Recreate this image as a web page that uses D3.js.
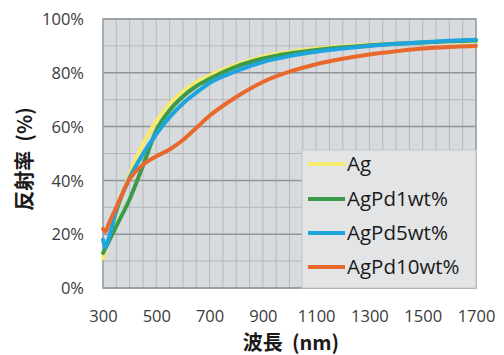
<!DOCTYPE html>
<html>
<head>
<meta charset="utf-8">
<script src="https://cdn.jsdelivr.net/npm/d3@7"></script>
<style>
  body { margin: 0; background: #ffffff; }
  svg { display: block; }
</style>
</head>
<body>
<div id="chart"></div>
<script>
// wavelengths (nm) and reflectance (%) per alloy
var wavelengths = [300, 310, 320, 350, 400, 450, 500, 550, 600, 650, 700, 800, 900, 1000, 1100, 1200, 1300, 1400, 1500, 1600, 1700];
var ag        = [11, 14, 17, 27, 42.5, 53.5, 62, 68.5, 73, 76.5, 79, 83, 86, 87.7, 89, 89.8, 90.4, 90.9, 91.3, 91.6, 91.8];
var agpd1     = [13, 15, 17, 23, 33, 45.5, 58.5, 66, 71.2, 75, 77.8, 82.3, 85.3, 87.2, 88.5, 89.5, 90.2, 90.8, 91.3, 91.7, 92];
var agpd5     = [18, 15, 18, 28.5, 41, 49.8, 57.2, 63.5, 68.6, 72.6, 76.2, 80.6, 84, 86.2, 87.8, 89, 90, 90.8, 91.4, 91.9, 92.3];
var agpd10    = [22, 21, 23.5, 30, 40.5, 45.8, 49, 51.5, 55, 59.5, 64, 71, 76.6, 80.4, 83.2, 85.2, 86.8, 88, 89, 89.6, 90];

var seriesNames = ['Ag', 'AgPd1wt%', 'AgPd5wt%', 'AgPd10wt%'];
var seriesValues = [ag, agpd1, agpd5, agpd10];
var seriesColors = ['#f8ea6e', '#3b9b4a', '#1ea5dd', '#e8692b'];

var xTicks = [300, 500, 700, 900, 1100, 1300, 1500, 1700];
var yTicks = [0, 20, 40, 60, 80, 100];

var width = 504;
var height = 355;

var plot = { left: 103, right: 476, top: 19, bottom: 288 };

var x = d3.scaleLinear().domain([300, 1700]).range([plot.left, plot.right]);
var y = d3.scaleLinear().domain([0, 100]).range([plot.bottom, plot.top]);

var svg = d3.select('#chart')
  .append('svg')
    .attr('width', width)
    .attr('height', height);

// plot background
svg.append('rect')
    .attr('x', plot.left)
    .attr('y', plot.top)
    .attr('width', plot.right - plot.left)
    .attr('height', plot.bottom - plot.top)
    .attr('fill', '#d8dbde');

// vertical grid every 50 nm
svg.append('g')
    .selectAll('line.x-grid')
    .data(d3.range(300, 1701, 50))
  .enter()
    .append('line')
    .attr('stroke', '#b4b8bc')
    .attr('stroke-width', 1)
    .attr('x1', function(d) { return x(d); })
    .attr('x2', function(d) { return x(d); })
    .attr('y1', plot.top)
    .attr('y2', plot.bottom);

// horizontal grid every 10 %
svg.append('g')
    .selectAll('line.y-grid')
    .data(d3.range(0, 101, 10))
  .enter()
    .append('line')
    .attr('stroke', function(d) { return d % 20 == 0 ? '#8f9397' : '#b4b8bc'; })
    .attr('stroke-width', function(d) { return d % 20 == 0 ? 1.5 : 1; })
    .attr('x1', plot.left)
    .attr('x2', plot.right)
    .attr('y1', function(d) { return y(d); })
    .attr('y2', function(d) { return y(d); });

// frame
svg.append('rect')
    .attr('x', plot.left)
    .attr('y', plot.top)
    .attr('width', plot.right - plot.left)
    .attr('height', plot.bottom - plot.top)
    .attr('fill', 'none')
    .attr('stroke', '#9a9ea2')
    .attr('stroke-width', 1.5);

// curves
var line = d3.line()
    .x(function(d) { return x(d[0]); })
    .y(function(d) { return y(d[1]); })
    .curve(d3.curveMonotoneX);

for (var i = 0; i < seriesValues.length; i++) {
    var pts = wavelengths.map(function(w, j) { return [w, seriesValues[i][j]]; });
    svg.append('path')
        .datum(pts)
        .attr('fill', 'none')
        .attr('stroke', seriesColors[i])
        .attr('stroke-width', 4)
        .attr('stroke-linejoin', 'round')
        .attr('stroke-linecap', 'round')
        .attr('d', line);
}

// axes
var yAxis = svg.append('g')
    .attr('transform', 'translate(' + (plot.left - 19) + ',0)')
    .call(d3.axisLeft(y).tickValues(yTicks).tickSize(0).tickFormat(function(d) { return d + '%'; }));
yAxis.select('.domain').remove();
yAxis.selectAll('text')
    .attr('font-family', '"Open Sans", sans-serif')
    .attr('font-size', '16.5px')
    .attr('fill', '#3a3a3a')
    .attr('dy', '0.35em')
    .attr('x', 0);

var xAxis = svg.append('g')
    .attr('transform', 'translate(0,' + plot.bottom + ')')
    .call(d3.axisBottom(x).tickValues(xTicks).tickSize(0).tickFormat(d3.format('d')));
xAxis.select('.domain').remove();
xAxis.selectAll('text')
    .attr('font-family', '"Open Sans", sans-serif')
    .attr('font-size', '16.5px')
    .attr('fill', '#3a3a3a')
    .attr('y', 22);

// legend
var legend = svg.append('g');
legend.append('rect')
    .attr('x', 302)
    .attr('y', 150)
    .attr('width', plot.right - 302)
    .attr('height', plot.bottom - 150)
    .attr('fill', '#e2e4e6')
    .attr('stroke', '#c4c7ca')
    .attr('stroke-width', 1);

var legendRows = [164, 199, 233, 267];
legend.selectAll('line.legend')
    .data(seriesNames)
  .enter()
    .append('line')
    .attr('x1', 308)
    .attr('x2', 345)
    .attr('y1', function(d, i) { return legendRows[i]; })
    .attr('y2', function(d, i) { return legendRows[i]; })
    .attr('stroke', function(d, i) { return seriesColors[i]; })
    .attr('stroke-width', 4);

legend.selectAll('text.legend')
    .data(seriesNames)
  .enter()
    .append('text')
    .attr('x', 347)
    .attr('y', function(d, i) { return legendRows[i]; })
    .attr('dy', '0.35em')
    .attr('font-family', '"Open Sans", sans-serif')
    .attr('font-size', '20.5px')
    .attr('fill', '#1a1a1a')
    .text(function(d) { return d; });

// axis titles
svg.append('text')
    .attr('x', 291)
    .attr('y', 350)
    .attr('text-anchor', 'middle')
    .attr('font-family', '"Noto Sans CJK JP", sans-serif')
    .attr('font-weight', 'bold')
    .attr('font-size', '20px')
    .attr('fill', '#1a1a1a')
    .attr('xml:space', 'preserve')
    .style('white-space', 'pre')
    .text('波長  (nm)');

svg.append('text')
    .attr('transform', 'translate(32,159) rotate(-90)')
    .attr('text-anchor', 'middle')
    .attr('font-family', '"Noto Sans CJK JP", sans-serif')
    .attr('font-weight', 'bold')
    .attr('font-size', '20px')
    .attr('fill', '#1a1a1a')
    .style('white-space', 'pre')
    .text('反射率  (%)');
</script>
</body>
</html>
